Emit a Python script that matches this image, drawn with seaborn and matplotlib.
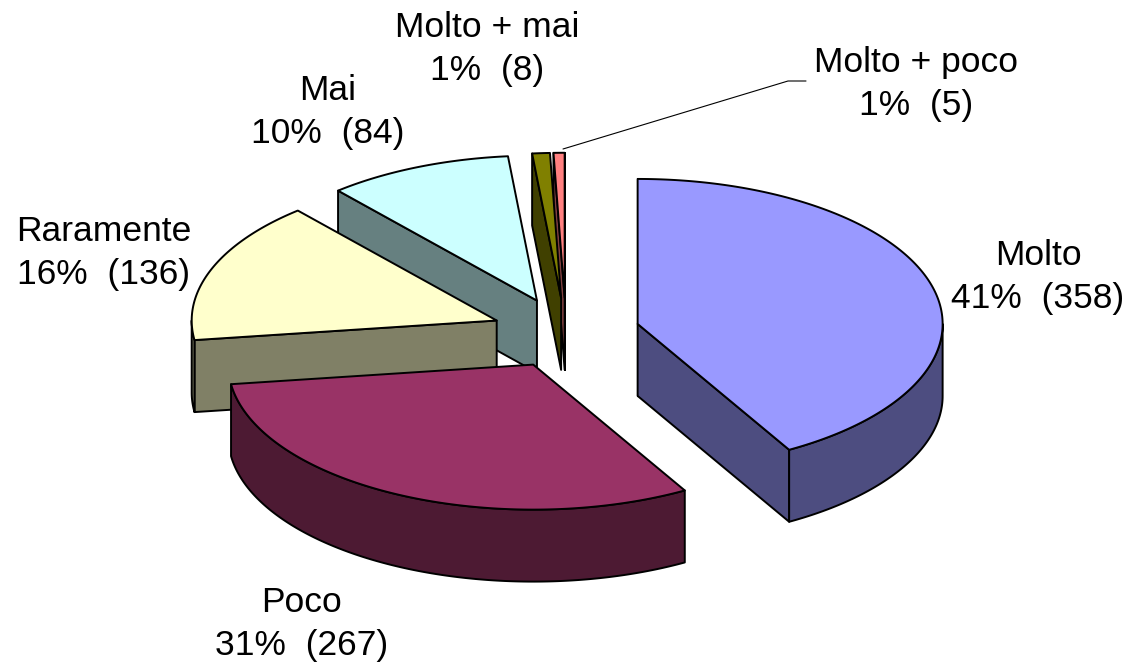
import numpy as np
import seaborn as sns
from matplotlib import pyplot as plt


names = ['Molto', 'Poco', 'Raramente', 'Mai', 'Molto + mai', 'Molto + poco']
counts = [358, 267, 136, 84, 8, 5]
percents = [41, 31, 16, 10, 1, 1]
top_colors = ['#9999FF', '#993366', '#FFFFCC', '#CCFFFF', '#808000', '#FF8080']

# pie geometry, in pixels of the picture
cx, cy = 566, 333
rx, ry = 305, 145
depth = 72
explode = 0.243

label_pos = {
    'Molto': (1038, 277),
    'Poco': (302, 624),
    'Raramente': (104, 253),
    'Mai': (328, 112),
    'Molto + mai': (487, 49),
    'Molto + poco': (916, 84),
}

sns.set_theme(style='white')
plt.rcParams['font.family'] = ['Liberation Sans', 'DejaVu Sans']
palette = sns.color_palette(top_colors)

fig, ax = plt.subplots(figsize=(11.28, 6.63), dpi=100)
ax.set_position([0, 0, 1, 1])
ax.set_xlim(0, 1128)
ax.set_ylim(663, 0)
ax.axis('off')


def rim(x0, y0, a1, a2):
    # angles in degrees, clockwise from twelve o'clock
    a = np.radians(np.linspace(a1, a2, max(int(abs(a2 - a1)) * 2, 2)))
    return x0 + rx * np.sin(a), y0 - ry * np.cos(a)


def faces_viewer(normal):
    return 90 <= normal % 360 <= 270


def draw_slice(a1, a2, color):
    mid = np.radians((a1 + a2) / 2)
    x0 = cx + explode * rx * np.sin(mid)
    y0 = cy - explode * ry * np.cos(mid)
    side = tuple(np.array(color) * 0.5)
    style = dict(edgecolor='black', linewidth=1.4, joinstyle='round')

    # cut faces, only those turned towards the viewer
    for ang, normal in ((a1, a1 - 90), (a2, a2 + 90)):
        if not faces_viewer(normal):
            continue
        xe, ye = rim(x0, y0, ang, ang)
        xs = [x0, xe[0], xe[0], x0]
        ys = [y0, ye[0], ye[0] + depth, y0 + depth]
        ax.fill(xs, ys, facecolor=side, **style)

    # outer wall, same thing
    lo, hi = max(a1, 90), min(a2, 270)
    if lo < hi:
        xw, yw = rim(x0, y0, lo, hi)
        ax.fill(np.r_[xw, xw[::-1]], np.r_[yw, yw[::-1] + depth], facecolor=side, **style)

    xt, yt = rim(x0, y0, a1, a2)
    ax.fill(np.r_[x0, xt], np.r_[y0, yt], facecolor=color, **style)


shares = np.array(counts) / sum(counts) * 360
edges = np.r_[0, np.cumsum(shares)]

# Molto goes last, the rest from the back to the front
for i in [5, 4, 3, 2, 1, 0]:
    draw_slice(edges[i], edges[i + 1], palette[i])

# leader line for the smallest slice
ax.plot([563, 788, 806], [149, 81, 81], color='black', lw=0.8)

for name, pct, n in zip(names, percents, counts):
    x, y = label_pos[name]
    ax.text(x, y, f'{name}\n{pct}%  ({n})', ha='center', va='center', fontsize=25.5,
            color='black', linespacing=1.4)

fig.savefig('out.png', dpi=100)
